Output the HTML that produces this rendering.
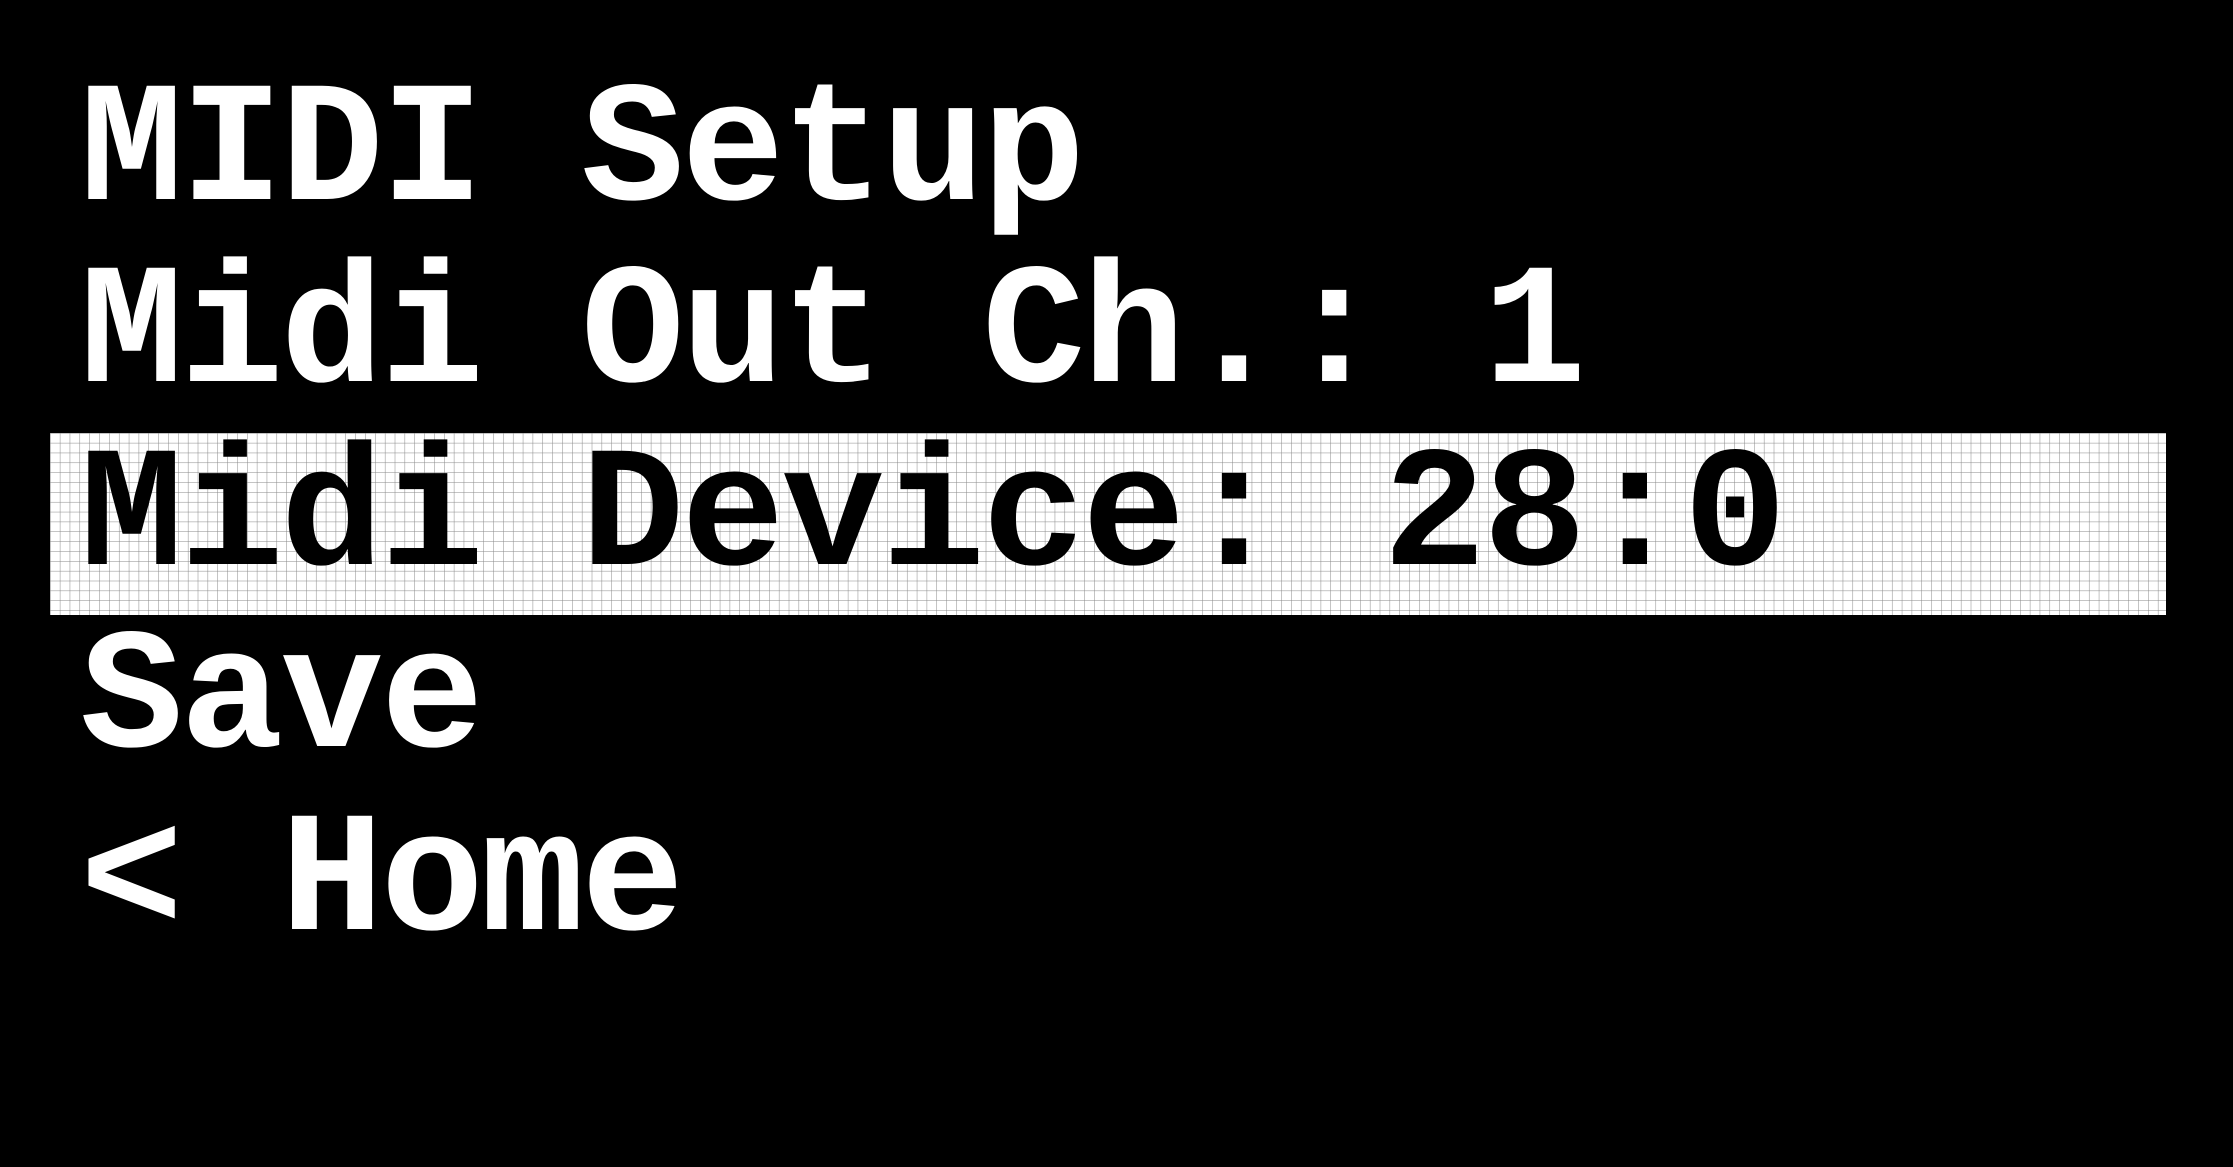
<!DOCTYPE html>
<html><head><meta charset="utf-8"><style>
html,body{margin:0;padding:0;background:#000;width:2233px;height:1167px;overflow:hidden}
svg{display:block}
text{font-family:"Liberation Mono","DejaVu Sans Mono",monospace;font-weight:bold;font-size:172px;letter-spacing:-3px}
</style></head><body>
<svg width="2233" height="1167" viewBox="0 0 2233 1167" xmlns="http://www.w3.org/2000/svg">
<defs>
<pattern id="g" x="50" y="433" width="9.85" height="9.85" patternUnits="userSpaceOnUse">
<rect width="9.85" height="9.85" fill="#fff"/>
<path d="M0 0H9.85M0 0V9.85" stroke="#888" stroke-width="1" fill="none"/>
</pattern>
</defs>
<rect width="2233" height="1167" fill="#000"/>
<rect x="50" y="433" width="2116" height="182" fill="url(#g)"/>
<g fill="#fff">
<text x="80" y="199">MIDI Setup</text>
<text x="80" y="381">Midi Out Ch.: 1</text>
<text x="80" y="746">Save</text>
<text x="80" y="929">&lt; Home</text>
</g>
<text x="80" y="564" fill="#000">Midi Device: 28:0</text>
</svg>
</body></html>
